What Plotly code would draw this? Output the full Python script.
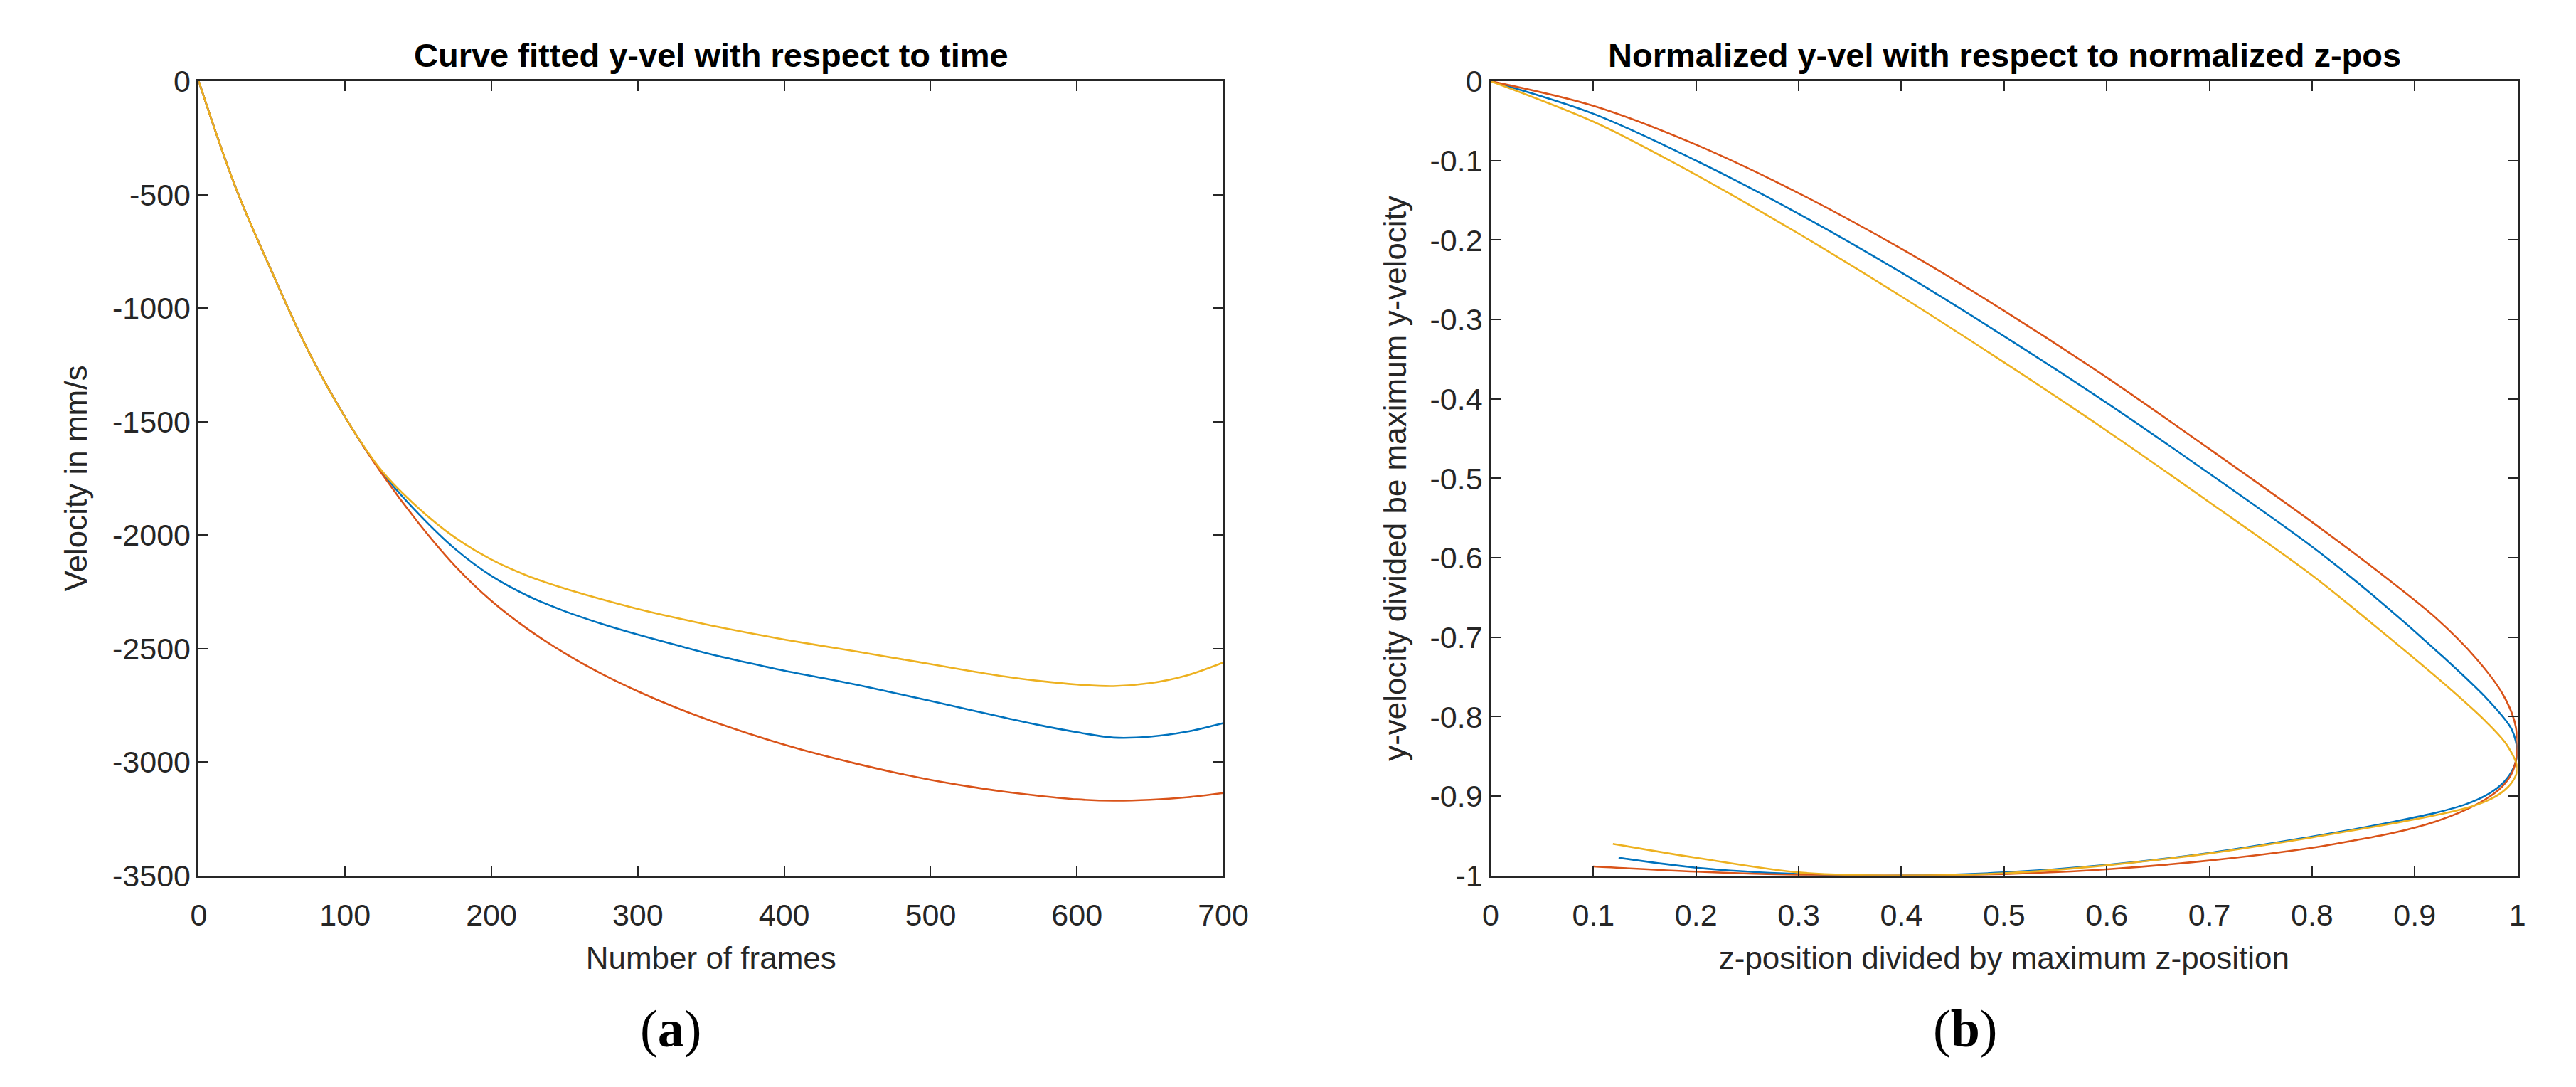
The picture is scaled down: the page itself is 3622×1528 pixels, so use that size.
import plotly.graph_objects as go

W, H = 3622, 1528

# ---------------- data: panel (a) ----------------
frames = [0, 25, 50, 75, 100, 125, 150, 175, 200, 225, 250, 275, 300, 325, 350, 375, 400, 425, 450, 475,
          500, 525, 550, 575, 600, 625, 650, 675, 700]
vel_blue = [0, -465, -840, -1190, -1480, -1722, -1905, -2060, -2180, -2268, -2335, -2390, -2438, -2482, -2525,
            -2562, -2597, -2628, -2660, -2695, -2730, -2767, -2803, -2838, -2868, -2892, -2888, -2866, -2828]
vel_orange = [0, -465, -840, -1190, -1480, -1728, -1945, -2135, -2290, -2415, -2520, -2610, -2688, -2757, -2818,
              -2873, -2923, -2968, -3008, -3045, -3078, -3106, -3130, -3149, -3164, -3170, -3166, -3155, -3136]
vel_yellow = [0, -465, -840, -1190, -1480, -1716, -1880, -2010, -2108, -2180, -2235, -2282, -2325, -2363, -2398,
              -2430, -2460, -2487, -2513, -2541, -2568, -2596, -2622, -2643, -2658, -2665, -2652, -2618, -2561]

# ---------------- data: panel (b) ----------------
z_blue = [0, 0.1, 0.2, 0.3, 0.4, 0.5, 0.6, 0.7, 0.8, 0.86, 0.926, 0.9715, 0.9943, 1.0,
          0.996, 0.987, 0.972, 0.95, 0.92, 0.88, 0.84, 0.8, 0.7, 0.6, 0.5, 0.4, 0.3, 0.2, 0.1246]
yv_blue = [0, -0.041, -0.100, -0.167, -0.241, -0.321, -0.405, -0.494, -0.586, -0.648, -0.7227, -0.779, -0.8156, -0.845,
           -0.865, -0.882, -0.897, -0.910, -0.921, -0.932, -0.942, -0.951, -0.9715, -0.9865, -0.996, -1.0, -0.998, -0.990, -0.9775]

z_orange = [0, 0.1, 0.2, 0.3, 0.4, 0.5, 0.6, 0.7, 0.8, 0.87, 0.92, 0.96, 0.985, 0.997, 1.0,
            0.995, 0.985, 0.97, 0.95, 0.92, 0.88, 0.84, 0.8, 0.7, 0.6, 0.5, 0.4, 0.3, 0.2, 0.0997]
yv_orange = [0, -0.031, -0.080, -0.141, -0.211, -0.289, -0.373, -0.463, -0.555, -0.623, -0.675, -0.727, -0.770, -0.805, -0.840,
             -0.870, -0.888, -0.903, -0.917, -0.932, -0.946, -0.956, -0.965, -0.981, -0.992, -0.998, -1.0, -0.999, -0.995, -0.9885]

z_yellow = [0, 0.1, 0.176, 0.3, 0.4, 0.5, 0.6, 0.7, 0.8, 0.87, 0.93, 0.97, 0.99, 1.0,
            0.995, 0.985, 0.97, 0.95, 0.92, 0.88, 0.84, 0.8, 0.7, 0.6, 0.5, 0.4, 0.3, 0.2, 0.119]
yv_yellow = [0, -0.051, -0.101, -0.192, -0.271, -0.354, -0.440, -0.530, -0.622, -0.695, -0.760, -0.807, -0.836, -0.8655,
             -0.882, -0.895, -0.906, -0.915, -0.924, -0.934, -0.943, -0.952, -0.972, -0.987, -0.997, -1.0, -0.996, -0.9775, -0.960]

# ---------------- tick labels ----------------
a_xticks = [0, 100, 200, 300, 400, 500, 600, 700]
a_xtext = ["0", "100", "200", "300", "400", "500", "600", "700"]
a_yticks = [0, -500, -1000, -1500, -2000, -2500, -3000, -3500]
a_ytext = ["0", "-500", "-1000", "-1500", "-2000", "-2500", "-3000", "-3500"]
b_xticks = [0, 0.1, 0.2, 0.3, 0.4, 0.5, 0.6, 0.7, 0.8, 0.9, 1]
b_xtext = ["0", "0.1", "0.2", "0.3", "0.4", "0.5", "0.6", "0.7", "0.8", "0.9", "1"]
b_yticks = [0, -0.1, -0.2, -0.3, -0.4, -0.5, -0.6, -0.7, -0.8, -0.9, -1]
b_ytext = ["0", "-0.1", "-0.2", "-0.3", "-0.4", "-0.5", "-0.6", "-0.7", "-0.8", "-0.9", "-1"]

BLUE, ORANGE, YELLOW = "#0072BD", "#D95319", "#EDB120"
INK = "#262626"
FONT = "Liberation Sans, Arial, sans-serif"
LW = 2.6

fig = go.Figure()
for ys, c in [(vel_blue, BLUE), (vel_orange, ORANGE), (vel_yellow, YELLOW)]:
    fig.add_trace(go.Scatter(x=frames, y=ys, mode="lines", line=dict(color=c, width=LW, shape="spline", smoothing=1.0),
                             xaxis="x", yaxis="y", showlegend=False))
for xs, ys, c in [(z_blue, yv_blue, BLUE), (z_orange, yv_orange, ORANGE), (z_yellow, yv_yellow, YELLOW)]:
    fig.add_trace(go.Scatter(x=xs, y=ys, mode="lines", line=dict(color=c, width=LW, shape="spline", smoothing=0.9),
                             xaxis="x2", yaxis="y2", showlegend=False))


def px(v):
    return v / W


def py(v):
    return 1 - v / H


axis_common = dict(showgrid=False, zeroline=False, showline=True, linecolor=INK, linewidth=2.6,
                   mirror="ticks", ticks="inside", ticklen=14, tickwidth=2.2, tickcolor=INK,
                   tickfont=dict(family=FONT, size=43, color=INK), title_font=dict(family=FONT, size=44, color=INK))

ydom = [py(1246), py(93)]
fig.update_layout(
    width=W, height=H, margin=dict(l=0, r=0, t=0, b=0),
    paper_bgcolor="white", plot_bgcolor="white", showlegend=False,
    xaxis=dict(domain=[px(271), px(1731)], range=[0, 700], tickvals=a_xticks, ticktext=a_xtext,
               anchor="y", ticklabelstandoff=16, title=dict(text="Number of frames", standoff=22), **axis_common),
    yaxis=dict(domain=ydom, range=[-3500, 0], tickvals=a_yticks, ticktext=a_ytext,
               anchor="x", title=dict(text="Velocity in mm/s", standoff=22), **axis_common),
    xaxis2=dict(domain=[px(2112), px(3575)], range=[0, 1], tickvals=b_xticks, ticktext=b_xtext,
                anchor="y2", ticklabelstandoff=16,
                title=dict(text="z-position divided by maximum z-position", standoff=22), **axis_common),
    yaxis2=dict(domain=ydom, range=[-1, 0], tickvals=b_yticks, ticktext=b_ytext,
                anchor="x2", title=dict(text="y-velocity divided be maximum y-velocity", standoff=20), **axis_common),
    annotations=[
        dict(text="<b>Curve fitted y-vel with respect to time</b>", x=px(1001), y=py(55), xref="paper", yref="paper",
             showarrow=False, xanchor="center", yanchor="middle", font=dict(family=FONT, size=47, color="black")),
        dict(text="<b>Normalized y-vel with respect to normalized z-pos</b>", x=px(2844), y=py(55), xref="paper",
             yref="paper", showarrow=False, xanchor="center", yanchor="middle",
             font=dict(family=FONT, size=47, color="black")),
        dict(text="(<b>a</b>)", x=px(943), y=py(1468), xref="paper", yref="paper", showarrow=False,
             xanchor="center", yanchor="middle",
             font=dict(family="Liberation Serif, Times New Roman, serif", size=74, color="black")),
        dict(text="(<b>b</b>)", x=px(2788), y=py(1468), xref="paper", yref="paper", showarrow=False,
             xanchor="center", yanchor="middle",
             font=dict(family="Liberation Serif, Times New Roman, serif", size=74, color="black")),
    ],
)

fig.write_html("out.html", config={"displayModeBar": False},
               post_script="document.body.style.margin='0px';document.body.style.overflow='hidden';")
